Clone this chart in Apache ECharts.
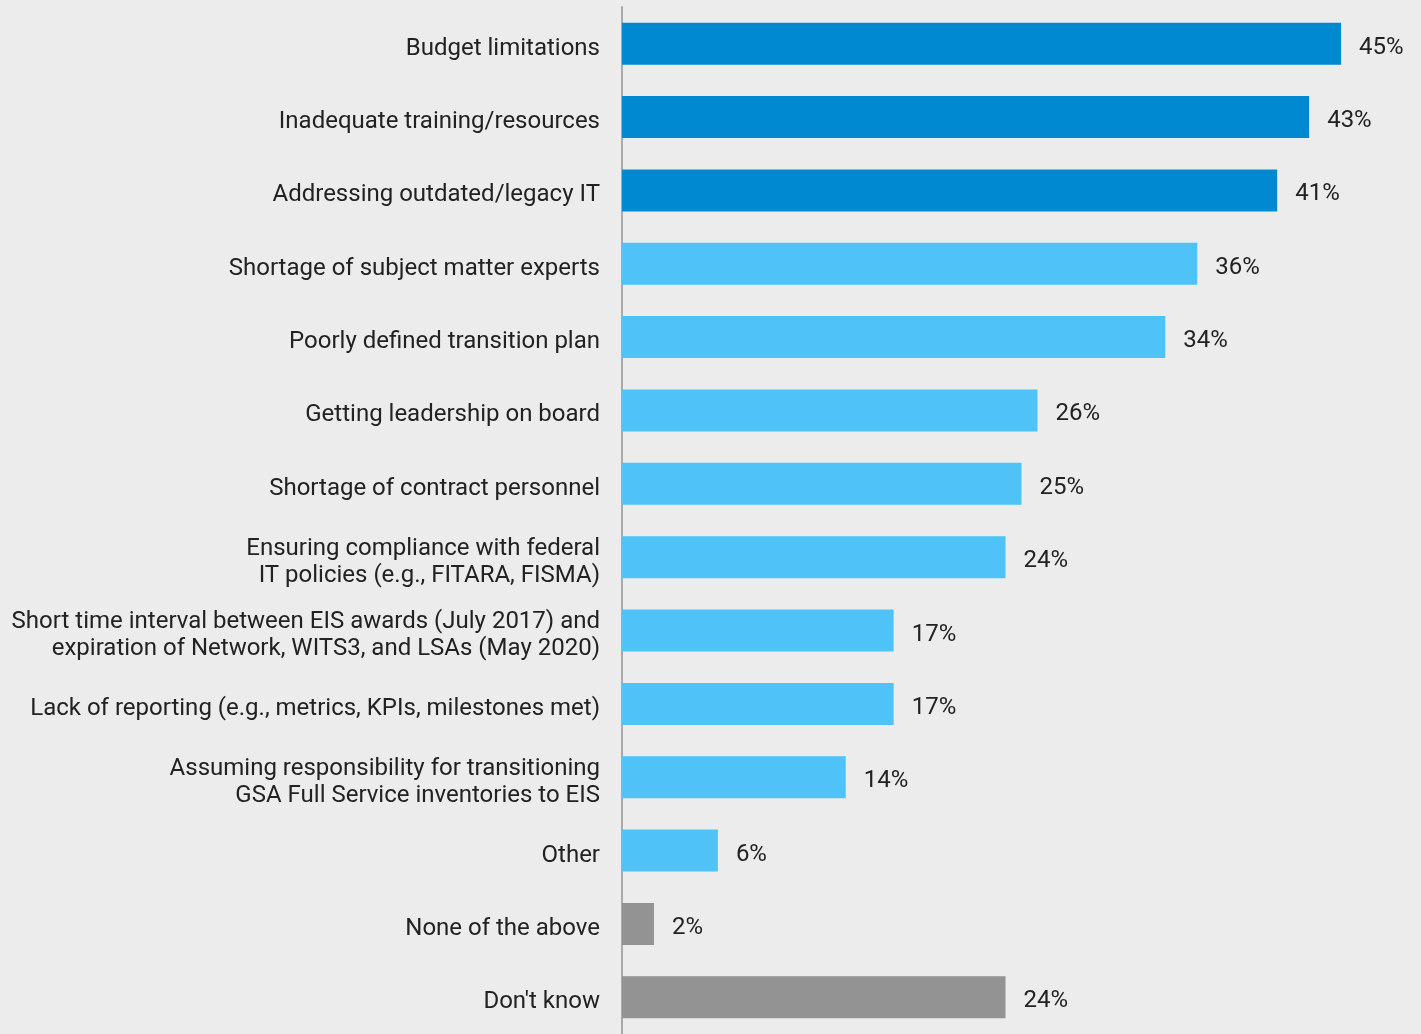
<!DOCTYPE html>
<html>
<head>
<meta charset="utf-8">
<script src="https://cdn.jsdelivr.net/npm/echarts@6/dist/echarts.min.js"></script>
<style>
  html, body { margin: 0; padding: 0; background: #ececec; }
  #chart { width: 1421px; height: 1034px; }
</style>
</head>
<body>
<div id="chart"></div>
<script>
// Survey responses: challenges in the EIS transition
const categories = [
  'Budget limitations',
  'Inadequate training/resources',
  'Addressing outdated/legacy IT',
  'Shortage of subject matter experts',
  'Poorly defined transition plan',
  'Getting leadership on board',
  'Shortage of contract personnel',
  'Ensuring compliance with federal\nIT policies (e.g., FITARA, FISMA)',
  'Short time interval between EIS awards (July 2017) and\nexpiration of Network, WITS3, and LSAs (May 2020)',
  'Lack of reporting (e.g., metrics, KPIs, milestones met)',
  'Assuming responsibility for transitioning\nGSA Full Service inventories to EIS',
  'Other',
  'None of the above',
  "Don't know"
];
const values = [45, 43, 41, 36, 34, 26, 25, 24, 17, 17, 14, 6, 2, 24];
// colour group per category: top three, other challenges, non-answers
const groups = ['top', 'top', 'top', 'mid', 'mid', 'mid', 'mid', 'mid', 'mid', 'mid', 'mid', 'mid', 'none', 'none'];
const groupColors = { top: '#0088d1', mid: '#4fc3f7', none: '#939393' };

const chart = echarts.init(document.getElementById('chart'));
chart.setOption({
  backgroundColor: '#ececec',
  animation: false,
  grid: { left: 622, top: 7, width: 799, height: 1027 },
  xAxis: {
    type: 'value', min: 0, max: 50,
    show: false
  },
  yAxis: {
    type: 'category',
    data: categories,
    inverse: true,
    axisLine: { show: true, lineStyle: { color: '#aaaaaa', width: 2 } },
    axisTick: { show: false },
    axisLabel: {
      margin: 22,
      align: 'right',
      // a thin empty first line nudges the label text slightly below the bar centre
      formatter: (v) => '{s|}\n' + v.split('\n').map((line) => '{t|' + line + '}').join('\n'),
      rich: {
        t: { fontFamily: 'Roboto', fontSize: 24, color: '#222222', lineHeight: 27, align: 'right' },
        s: { fontSize: 10, lineHeight: 10 }
      }
    }
  },
  series: [{
    type: 'bar',
    barWidth: 42,
    data: values.map((v, i) => ({ value: v, itemStyle: { color: groupColors[groups[i]] } })),
    label: {
      show: true,
      position: 'right',
      distance: 18,
      offset: [0, 4],
      formatter: '{c}%',
      fontFamily: 'Roboto',
      fontSize: 24,
      color: '#222222'
    }
  }]
});
</script>
</body>
</html>
